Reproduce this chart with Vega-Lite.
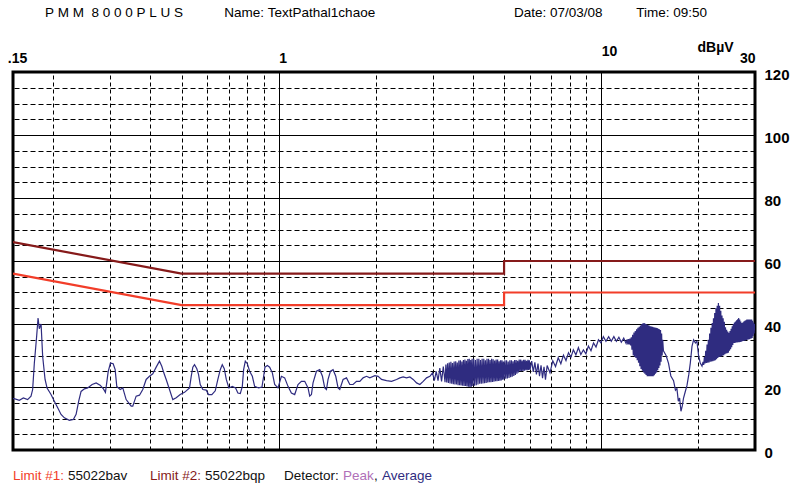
{
  "$schema": "https://vega.github.io/schema/vega-lite/v6.json",
  "width": 742,
  "height": 378,
  "autosize": {"type": "none"},
  "padding": {"left": 13, "top": 72, "right": 41, "bottom": 36},
  "background": "white",
  "title": {
    "text": "P\u00a0M\u00a0M\u00a0\u00a08\u00a00\u00a00\u00a00\u00a0P\u00a0L\u00a0U\u00a0S\u00a0\u00a0\u00a0\u00a0\u00a0\u00a0\u00a0\u00a0\u00a0\u00a0\u00a0Name:\u00a0TextPathal1chaoe\u00a0\u00a0\u00a0\u00a0\u00a0\u00a0\u00a0\u00a0\u00a0\u00a0\u00a0\u00a0\u00a0\u00a0\u00a0\u00a0\u00a0\u00a0\u00a0\u00a0\u00a0\u00a0\u00a0\u00a0\u00a0\u00a0\u00a0\u00a0\u00a0\u00a0\u00a0\u00a0\u00a0\u00a0\u00a0\u00a0\u00a0Date:\u00a007/03/08\u00a0\u00a0\u00a0\u00a0\u00a0\u00a0\u00a0\u00a0\u00a0Time:\u00a009:50",
    "anchor": "start",
    "frame": "group",
    "dx": 32,
    "offset": 21,
    "font": "Liberation Sans",
    "fontSize": 13.5,
    "fontWeight": "normal",
    "color": "black"
  },
  "datasets": {
    "limits": [
      {"lim": "Limit #1:", "i": 1, "f": 0.15, "db": 56},
      {"lim": "Limit #1:", "i": 2, "f": 0.5, "db": 46},
      {"lim": "Limit #1:", "i": 3, "f": 5, "db": 46},
      {"lim": "Limit #1:", "i": 4, "f": 5, "db": 50},
      {"lim": "Limit #1:", "i": 5, "f": 30, "db": 50},
      {"lim": "Limit #2:", "i": 1, "f": 0.15, "db": 66},
      {"lim": "Limit #2:", "i": 2, "f": 0.5, "db": 56},
      {"lim": "Limit #2:", "i": 3, "f": 5, "db": 56},
      {"lim": "Limit #2:", "i": 4, "f": 5, "db": 60},
      {"lim": "Limit #2:", "i": 5, "f": 30, "db": 60}
    ],
    "trace": [
      {"f": 0.15, "db": 16.3}, {"f": 0.1514, "db": 16.3}, {"f": 0.1569, "db": 15.8}, {"f": 0.1615, "db": 16.5},
      {"f": 0.1665, "db": 16.0}, {"f": 0.1706, "db": 17.1}, {"f": 0.1726, "db": 19.2}, {"f": 0.1747, "db": 27.6},
      {"f": 0.1776, "db": 36.1}, {"f": 0.1794, "db": 41.9}, {"f": 0.181, "db": 38.5}, {"f": 0.1833, "db": 40.0},
      {"f": 0.1854, "db": 29.7}, {"f": 0.1886, "db": 22.4}, {"f": 0.1913, "db": 19.7}, {"f": 0.1968, "db": 17.6},
      {"f": 0.2015, "db": 15.5}, {"f": 0.2064, "db": 13.4}, {"f": 0.2114, "db": 11.3}, {"f": 0.2165, "db": 10.2},
      {"f": 0.2243, "db": 9.4}, {"f": 0.2308, "db": 9.7}, {"f": 0.2354, "db": 11.3}, {"f": 0.2398, "db": 15.5},
      {"f": 0.2439, "db": 18.6}, {"f": 0.2498, "db": 19.4}, {"f": 0.2557, "db": 19.7}, {"f": 0.2639, "db": 20.8},
      {"f": 0.2716, "db": 21.3}, {"f": 0.2794, "db": 20.6}, {"f": 0.2861, "db": 19.4}, {"f": 0.2902, "db": 18.3},
      {"f": 0.2929, "db": 21.3}, {"f": 0.2959, "db": 24.8}, {"f": 0.3008, "db": 27.6}, {"f": 0.3067, "db": 27.4},
      {"f": 0.3111, "db": 25.5}, {"f": 0.3147, "db": 20.2}, {"f": 0.3224, "db": 19.2}, {"f": 0.3285, "db": 19.7},
      {"f": 0.3365, "db": 16.0}, {"f": 0.3488, "db": 13.9}, {"f": 0.3528, "db": 13.9}, {"f": 0.3614, "db": 17.1},
      {"f": 0.3701, "db": 17.4}, {"f": 0.3789, "db": 19.2}, {"f": 0.3882, "db": 22.4}, {"f": 0.3975, "db": 23.4},
      {"f": 0.407, "db": 24.2}, {"f": 0.417, "db": 26.3}, {"f": 0.4269, "db": 28.2}, {"f": 0.434, "db": 26.6},
      {"f": 0.4403, "db": 24.5}, {"f": 0.4479, "db": 22.4}, {"f": 0.4586, "db": 19.2}, {"f": 0.4695, "db": 16.0},
      {"f": 0.4811, "db": 16.6}, {"f": 0.495, "db": 17.6}, {"f": 0.5105, "db": 18.3}, {"f": 0.5291, "db": 19.7},
      {"f": 0.5355, "db": 23.4}, {"f": 0.5417, "db": 26.3}, {"f": 0.5483, "db": 27.1}, {"f": 0.5574, "db": 25.8},
      {"f": 0.5642, "db": 24.0}, {"f": 0.5711, "db": 20.8}, {"f": 0.5819, "db": 19.2}, {"f": 0.5962, "db": 19.0},
      {"f": 0.6061, "db": 17.6}, {"f": 0.6205, "db": 17.6}, {"f": 0.6358, "db": 18.8}, {"f": 0.6477, "db": 22.4},
      {"f": 0.6589, "db": 25.5}, {"f": 0.6684, "db": 27.1}, {"f": 0.6781, "db": 25.8}, {"f": 0.6879, "db": 22.4},
      {"f": 0.7008, "db": 19.7}, {"f": 0.718, "db": 20.2}, {"f": 0.7351, "db": 19.7}, {"f": 0.7473, "db": 18.1},
      {"f": 0.7603, "db": 17.9}, {"f": 0.7713, "db": 20.2}, {"f": 0.7785, "db": 25.5}, {"f": 0.788, "db": 28.2},
      {"f": 0.7994, "db": 27.4}, {"f": 0.8126, "db": 25.0}, {"f": 0.8285, "db": 23.4}, {"f": 0.8422, "db": 20.2},
      {"f": 0.8667, "db": 19.7}, {"f": 0.8874, "db": 20.0}, {"f": 0.8982, "db": 23.4}, {"f": 0.9066, "db": 26.3},
      {"f": 0.9223, "db": 26.8}, {"f": 0.9376, "db": 26.3}, {"f": 0.9559, "db": 24.5}, {"f": 0.9718, "db": 20.8},
      {"f": 0.995, "db": 19.7}, {"f": 1.0195, "db": 23.4}, {"f": 1.0438, "db": 22.9}, {"f": 1.0688, "db": 20.2},
      {"f": 1.095, "db": 18.1}, {"f": 1.1212, "db": 17.6}, {"f": 1.148, "db": 20.8}, {"f": 1.1763, "db": 21.8},
      {"f": 1.2043, "db": 21.8}, {"f": 1.2331, "db": 19.7}, {"f": 1.2482, "db": 17.1}, {"f": 1.2635, "db": 17.6},
      {"f": 1.278, "db": 21.3}, {"f": 1.3095, "db": 25.0}, {"f": 1.3407, "db": 25.5}, {"f": 1.3668, "db": 23.4},
      {"f": 1.3895, "db": 19.7}, {"f": 1.4065, "db": 19.2}, {"f": 1.4227, "db": 22.4}, {"f": 1.4473, "db": 25.0},
      {"f": 1.4745, "db": 25.5}, {"f": 1.5032, "db": 23.4}, {"f": 1.5282, "db": 19.7}, {"f": 1.5469, "db": 19.2},
      {"f": 1.5838, "db": 22.4}, {"f": 1.6228, "db": 22.9}, {"f": 1.6615, "db": 20.8}, {"f": 1.7012, "db": 20.8},
      {"f": 1.743, "db": 21.8}, {"f": 1.7846, "db": 21.8}, {"f": 1.8272, "db": 22.9}, {"f": 1.8722, "db": 23.4},
      {"f": 1.9171, "db": 22.9}, {"f": 1.9868, "db": 23.6}, {"f": 2.0342, "db": 23.4}, {"f": 2.0842, "db": 22.4},
      {"f": 2.16, "db": 22.0}, {"f": 2.2387, "db": 21.8}, {"f": 2.3202, "db": 22.4}, {"f": 2.3756, "db": 22.9},
      {"f": 2.4322, "db": 23.2}, {"f": 2.4921, "db": 22.9}, {"f": 2.5516, "db": 23.2}, {"f": 2.6125, "db": 22.4},
      {"f": 2.6767, "db": 21.3}, {"f": 2.7406, "db": 20.8}, {"f": 2.8061, "db": 21.8}, {"f": 2.875, "db": 22.9},
      {"f": 2.9436, "db": 23.4},
      {"f": 3.00, "db": 24.5}, {"f": 3.04, "db": 22}, {"f": 3.08, "db": 25}, {"f": 3.12, "db": 22},
      {"f": 3.16, "db": 26}, {"f": 3.20, "db": 21.8}, {"f": 3.24, "db": 26.5}, {"f": 3.28, "db": 21.5},
      {"f": 3.30, "db": 27.1}, {"f": 3.32, "db": 21.4}, {"f": 3.34, "db": 27.5}, {"f": 3.36, "db": 21.3},
      {"f": 3.38, "db": 27.8}, {"f": 3.40, "db": 21.1}, {"f": 3.42, "db": 28}, {"f": 3.44, "db": 21},
      {"f": 3.46, "db": 27.6}, {"f": 3.48, "db": 20.9}, {"f": 3.50, "db": 28.1}, {"f": 3.52, "db": 20.8},
      {"f": 3.54, "db": 28.2}, {"f": 3.56, "db": 20.8}, {"f": 3.58, "db": 27.8}, {"f": 3.60, "db": 20.6},
      {"f": 3.62, "db": 28.4}, {"f": 3.64, "db": 20.6}, {"f": 3.66, "db": 28.5}, {"f": 3.68, "db": 20.5},
      {"f": 3.70, "db": 28.1}, {"f": 3.72, "db": 20.4}, {"f": 3.74, "db": 28.6}, {"f": 3.76, "db": 20.3},
      {"f": 3.78, "db": 28.7}, {"f": 3.80, "db": 20.3}, {"f": 3.82, "db": 28.3}, {"f": 3.84, "db": 20.2},
      {"f": 3.86, "db": 28.9}, {"f": 3.88, "db": 20.1}, {"f": 3.90, "db": 29}, {"f": 3.92, "db": 20},
      {"f": 3.94, "db": 28.6}, {"f": 3.96, "db": 20.1}, {"f": 3.98, "db": 29}, {"f": 4.00, "db": 20.3},
      {"f": 4.025, "db": 29}, {"f": 4.05, "db": 20.4}, {"f": 4.075, "db": 28.6}, {"f": 4.10, "db": 20.6},
      {"f": 4.125, "db": 29}, {"f": 4.15, "db": 20.8}, {"f": 4.175, "db": 29}, {"f": 4.20, "db": 21},
      {"f": 4.225, "db": 28.6}, {"f": 4.25, "db": 21}, {"f": 4.275, "db": 29}, {"f": 4.30, "db": 21.1},
      {"f": 4.325, "db": 29}, {"f": 4.35, "db": 21.2}, {"f": 4.375, "db": 28.5}, {"f": 4.40, "db": 21.3},
      {"f": 4.425, "db": 29}, {"f": 4.45, "db": 21.4}, {"f": 4.475, "db": 29}, {"f": 4.50, "db": 21.5},
      {"f": 4.525, "db": 28.6}, {"f": 4.55, "db": 21.5}, {"f": 4.575, "db": 29}, {"f": 4.60, "db": 21.6},
      {"f": 4.625, "db": 28.8}, {"f": 4.65, "db": 21.7}, {"f": 4.675, "db": 28.4}, {"f": 4.70, "db": 21.8},
      {"f": 4.725, "db": 28.7}, {"f": 4.75, "db": 21.8}, {"f": 4.775, "db": 28.7}, {"f": 4.80, "db": 21.9},
      {"f": 4.825, "db": 28.2}, {"f": 4.85, "db": 22}, {"f": 4.875, "db": 28.5}, {"f": 4.90, "db": 22.1},
      {"f": 4.925, "db": 28.5}, {"f": 4.95, "db": 22.3}, {"f": 4.975, "db": 28.1}, {"f": 5.00, "db": 22.4},
      {"f": 5.03, "db": 28.5}, {"f": 5.06, "db": 22.6}, {"f": 5.09, "db": 28.5}, {"f": 5.12, "db": 22.7},
      {"f": 5.15, "db": 28.1}, {"f": 5.18, "db": 22.9}, {"f": 5.21, "db": 28.5}, {"f": 5.24, "db": 23.1},
      {"f": 5.27, "db": 28.5}, {"f": 5.30, "db": 23.3}, {"f": 5.33, "db": 28.2}, {"f": 5.36, "db": 23.5},
      {"f": 5.39, "db": 28.6}, {"f": 5.42, "db": 23.8}, {"f": 5.45, "db": 28.6}, {"f": 5.48, "db": 24.2},
      {"f": 5.51, "db": 28.3}, {"f": 5.54, "db": 24.6}, {"f": 5.57, "db": 28.7}, {"f": 5.60, "db": 25},
      {"f": 5.63, "db": 28.7}, {"f": 5.66, "db": 25}, {"f": 5.69, "db": 28.4}, {"f": 5.72, "db": 25.1},
      {"f": 5.75, "db": 28.6}, {"f": 5.78, "db": 25.2}, {"f": 5.81, "db": 28.6}, {"f": 5.84, "db": 25.3},
      {"f": 5.87, "db": 28.3}, {"f": 5.90, "db": 25.3}, {"f": 5.93, "db": 28.6}, {"f": 5.96, "db": 25.4},
      {"f": 5.99, "db": 28.5}, {"f": 6.02, "db": 25.5}, {"f": 6.09, "db": 28.2}, {"f": 6.16, "db": 24.8},
      {"f": 6.23, "db": 27.8}, {"f": 6.30, "db": 24}, {"f": 6.37, "db": 27.4}, {"f": 6.44, "db": 23.4},
      {"f": 6.51, "db": 26.9}, {"f": 6.58, "db": 22.8}, {"f": 6.65, "db": 26.4}, {"f": 6.72, "db": 22.3},
      {"f": 6.80, "db": 26.8}, {"f": 6.94, "db": 24.5}, {"f": 7.08, "db": 28.3}, {"f": 7.22, "db": 26.5},
      {"f": 7.36, "db": 29.3}, {"f": 7.50, "db": 27.4}, {"f": 7.64, "db": 30.1}, {"f": 7.78, "db": 28.4},
      {"f": 7.92, "db": 30.9}, {"f": 8.06, "db": 29.5}, {"f": 8.20, "db": 31.8}, {"f": 8.35, "db": 30.2},
      {"f": 8.50, "db": 32.5}, {"f": 8.65, "db": 30.3}, {"f": 8.81, "db": 31.8}, {"f": 8.97, "db": 30.5},
      {"f": 9.13, "db": 33}, {"f": 9.30, "db": 31.5}, {"f": 9.47, "db": 34}, {"f": 9.64, "db": 32.7},
      {"f": 9.81, "db": 35}, {"f": 9.98, "db": 34}, {"f": 10.16, "db": 36}, {"f": 10.35, "db": 34.5},
      {"f": 10.55, "db": 36}, {"f": 10.75, "db": 34.5}, {"f": 10.95, "db": 36}, {"f": 11.15, "db": 34.5},
      {"f": 11.35, "db": 35.8}, {"f": 11.55, "db": 34.2}, {"f": 11.75, "db": 35.5}, {"f": 11.95, "db": 33.8},
      {"f": 12.04, "db": 35.1}, {"f": 12.10, "db": 33.5}, {"f": 12.16, "db": 35.2}, {"f": 12.22, "db": 33.5},
      {"f": 12.28, "db": 35.4}, {"f": 12.34, "db": 33.2}, {"f": 12.40, "db": 35.8}, {"f": 12.46, "db": 31.8},
      {"f": 12.52, "db": 36.6}, {"f": 12.58, "db": 30}, {"f": 12.64, "db": 37.3}, {"f": 12.70, "db": 29.6},
      {"f": 12.76, "db": 37.8}, {"f": 12.82, "db": 29.2}, {"f": 12.88, "db": 38.3}, {"f": 12.94, "db": 28.5},
      {"f": 13.00, "db": 38.8}, {"f": 13.06, "db": 27.7}, {"f": 13.12, "db": 39.1}, {"f": 13.18, "db": 26.6},
      {"f": 13.24, "db": 39.5}, {"f": 13.30, "db": 25.7}, {"f": 13.36, "db": 39.9}, {"f": 13.42, "db": 25.2},
      {"f": 13.48, "db": 40.2}, {"f": 13.54, "db": 24.6}, {"f": 13.60, "db": 40.3}, {"f": 13.66, "db": 24.2},
      {"f": 13.72, "db": 40.1}, {"f": 13.78, "db": 23.8}, {"f": 13.84, "db": 39.9}, {"f": 13.90, "db": 23.4},
      {"f": 13.96, "db": 39.7}, {"f": 14.02, "db": 23.4}, {"f": 14.08, "db": 39.5}, {"f": 14.14, "db": 23.4},
      {"f": 14.20, "db": 39.3}, {"f": 14.26, "db": 23.4}, {"f": 14.32, "db": 39.2}, {"f": 14.38, "db": 23.4},
      {"f": 14.44, "db": 39.1}, {"f": 14.50, "db": 23.4}, {"f": 14.56, "db": 39}, {"f": 14.62, "db": 23.7},
      {"f": 14.68, "db": 38.9}, {"f": 14.74, "db": 24.2}, {"f": 14.80, "db": 38.8}, {"f": 14.86, "db": 24.6},
      {"f": 14.92, "db": 38.7}, {"f": 14.98, "db": 25.3}, {"f": 15.04, "db": 38.5}, {"f": 15.10, "db": 26},
      {"f": 15.16, "db": 38.3}, {"f": 15.22, "db": 26.8}, {"f": 15.28, "db": 38.1}, {"f": 15.34, "db": 28},
      {"f": 15.40, "db": 37}, {"f": 15.46, "db": 30}, {"f": 15.52, "db": 35}, {"f": 15.60, "db": 31.5},
      {"f": 15.9, "db": 30}, {"f": 16.18, "db": 27.5}, {"f": 16.45, "db": 23.5}, {"f": 16.77, "db": 22},
      {"f": 17.0, "db": 19}, {"f": 17.18, "db": 19.5}, {"f": 17.35, "db": 15.5}, {"f": 17.51, "db": 16.5},
      {"f": 17.68, "db": 12.3}, {"f": 17.85, "db": 14}, {"f": 18.01, "db": 16.5}, {"f": 18.23, "db": 18.5},
      {"f": 18.46, "db": 20.5}, {"f": 18.70, "db": 24}, {"f": 18.90, "db": 27.6}, {"f": 19.13, "db": 32.9},
      {"f": 19.35, "db": 35}, {"f": 19.6, "db": 34}, {"f": 19.82, "db": 34.5}, {"f": 20.05, "db": 30},
      {"f": 20.29, "db": 27.6}, {"f": 20.55, "db": 26.6},
      {"f": 20.7, "db": 28}, {"f": 20.8, "db": 27}, {"f": 20.9, "db": 29.5}, {"f": 21.0, "db": 27.5},
      {"f": 21.1, "db": 31.5}, {"f": 21.2, "db": 27.6}, {"f": 21.3, "db": 33.5}, {"f": 21.4, "db": 27.7},
      {"f": 21.5, "db": 35}, {"f": 21.6, "db": 27.8}, {"f": 21.7, "db": 37}, {"f": 21.8, "db": 28},
      {"f": 21.9, "db": 38.8}, {"f": 22.0, "db": 28.1}, {"f": 22.1, "db": 40.3}, {"f": 22.2, "db": 28.2},
      {"f": 22.3, "db": 41.8}, {"f": 22.4, "db": 28.3}, {"f": 22.5, "db": 43.5}, {"f": 22.6, "db": 28.5},
      {"f": 22.7, "db": 45}, {"f": 22.8, "db": 28.8}, {"f": 22.9, "db": 45.8}, {"f": 23.0, "db": 29.2},
      {"f": 23.1, "db": 46.7}, {"f": 23.2, "db": 29.5}, {"f": 23.3, "db": 45.8}, {"f": 23.4, "db": 29.6},
      {"f": 23.5, "db": 44.2}, {"f": 23.6, "db": 29.7}, {"f": 23.7, "db": 42.7}, {"f": 23.8, "db": 29.9},
      {"f": 23.9, "db": 41.8}, {"f": 24.0, "db": 30.1}, {"f": 24.1, "db": 40.7}, {"f": 24.2, "db": 30.4},
      {"f": 24.3, "db": 39}, {"f": 24.4, "db": 30.6}, {"f": 24.5, "db": 38.2}, {"f": 24.6, "db": 30.7},
      {"f": 24.7, "db": 37.6}, {"f": 24.8, "db": 30.9}, {"f": 24.9, "db": 37.2}, {"f": 25.0, "db": 31.5},
      {"f": 25.1, "db": 37.8}, {"f": 25.2, "db": 32}, {"f": 25.3, "db": 38.5}, {"f": 25.4, "db": 32.6},
      {"f": 25.5, "db": 39.3}, {"f": 25.6, "db": 33.3}, {"f": 25.7, "db": 40}, {"f": 25.8, "db": 34},
      {"f": 25.9, "db": 40.5}, {"f": 26.0, "db": 34}, {"f": 26.1, "db": 40.8}, {"f": 26.2, "db": 34.1},
      {"f": 26.3, "db": 41.2}, {"f": 26.4, "db": 34.1}, {"f": 26.5, "db": 41.5}, {"f": 26.6, "db": 34.2},
      {"f": 26.7, "db": 41.9}, {"f": 26.8, "db": 34.2}, {"f": 26.9, "db": 41.4}, {"f": 27.0, "db": 34.3},
      {"f": 27.1, "db": 40.8}, {"f": 27.2, "db": 34.4}, {"f": 27.3, "db": 40.3}, {"f": 27.4, "db": 34.5},
      {"f": 27.5, "db": 40.5}, {"f": 27.6, "db": 34.6}, {"f": 27.7, "db": 40.8}, {"f": 27.8, "db": 34.7},
      {"f": 27.9, "db": 41}, {"f": 28.0, "db": 34.8}, {"f": 28.1, "db": 41.2}, {"f": 28.2, "db": 34.9},
      {"f": 28.3, "db": 41.4}, {"f": 28.4, "db": 35}, {"f": 28.5, "db": 41.4}, {"f": 28.6, "db": 35.1},
      {"f": 28.7, "db": 41.4}, {"f": 28.8, "db": 35.2}, {"f": 28.9, "db": 41.4}, {"f": 29.0, "db": 35.3},
      {"f": 29.1, "db": 41.4}, {"f": 29.2, "db": 35.4}, {"f": 29.3, "db": 41.4}, {"f": 29.4, "db": 35.6},
      {"f": 29.5, "db": 41}, {"f": 29.6, "db": 36.2}, {"f": 29.7, "db": 40.5}, {"f": 29.8, "db": 37},
      {"f": 29.9, "db": 40}, {"f": 30.0, "db": 38}
    ]
  },
  "encoding": {
    "x": {
      "field": "f",
      "type": "quantitative",
      "scale": {"type": "log", "domain": [0.15, 30], "nice": false},
      "axis": {
        "orient": "top",
        "title": null,
        "values": [0.15, 0.2, 0.3, 0.4, 0.5, 0.6, 0.7, 0.8, 0.9, 1, 2, 3, 4, 5, 6, 7, 8, 9, 10, 20, 30],
        "labelExpr": "datum.value == 0.15 ? '.15' : datum.value == 1 ? '1' : datum.value == 10 ? '10' : datum.value == 30 ? '30' : ''",
        "labelOverlap": false,
        "labelFlush": false,
        "ticks": false,
        "domain": false,
        "grid": true,
        "gridColor": "black",
        "gridWidth": 1,
        "gridOpacity": 1,
        "gridDash": {"condition": {"test": "datum.value == 1 || datum.value == 10", "value": []}, "value": [4, 3]},
        "labelFont": "Liberation Sans",
        "labelFontWeight": "bold",
        "labelFontSize": 14,
        "labelColor": "black",
        "labelPadding": 14,
        "labelOffset": {"condition": {"test": "datum.value == 0.15", "value": 4}, "value": 0},
        "labelAlign": {"condition": [{"test": "datum.value == 30", "value": "right"}, {"test": "datum.value == 0.15", "value": "center"}], "value": "left"},
        "labelBaseline": {"condition": {"test": "datum.value == 10", "value": "bottom"}, "value": "middle"}
      }
    },
    "y": {
      "field": "db",
      "type": "quantitative",
      "scale": {"domain": [0, 120], "nice": false, "zero": false},
      "axis": {
        "orient": "right",
        "values": [0, 5, 10, 15, 20, 25, 30, 35, 40, 45, 50, 55, 60, 65, 70, 75, 80, 85, 90, 95, 100, 105, 110, 115, 120],
        "labelExpr": "datum.value % 20 == 0 ? datum.label : ''",
        "labelOverlap": false,
        "ticks": false,
        "domain": false,
        "grid": true,
        "gridColor": "black",
        "gridWidth": 1,
        "gridOpacity": 1,
        "gridDash": {"condition": {"test": "datum.value % 20 == 0", "value": []}, "value": [5, 3]},
        "labelFont": "Liberation Sans",
        "labelFontWeight": "bold",
        "labelFontSize": 15,
        "labelColor": "black",
        "labelPadding": 9,
        "labelOffset": 2,
        "title": "dB\u00b5V",
        "titleAngle": 0,
        "titleX": -58,
        "titleY": -18,
        "titleAlign": "left",
        "titleBaseline": "bottom",
        "titleFont": "Liberation Sans",
        "titleFontWeight": "bold",
        "titleFontSize": 14,
        "titleColor": "black"
      }
    }
  },
  "layer": [
    {
      "data": {"name": "limits"},
      "mark": {"type": "line", "strokeWidth": 2.2, "clip": true},
      "encoding": {
        "order": {"field": "i", "type": "quantitative"},
        "color": {
          "field": "lim",
          "type": "nominal",
          "scale": {
            "domain": ["Limit #1:", "55022bav", "Limit #2:", "55022bqp", "Detector:", "Peak", ",", "Average"],
            "range": ["#f23d29", "#111111", "#861a1a", "#111111", "#111111", "#b070b8", "#111111", "#2f2c80"]
          },
          "legend": {
            "orient": "bottom",
            "direction": "horizontal",
            "title": null,
            "offset": 19,
            "padding": 0,
            "symbolType": "circle",
            "symbolSize": 1,
            "symbolOpacity": 0,
            "symbolStrokeWidth": 0,
            "labelOffset": 0,
            "columnPadding": 0,
            "labelFont": "Liberation Sans",
            "labelFontSize": 13.5,
            "labelLimit": 300,
            "encode": {
              "labels": {
                "update": {
                  "fill": {"scale": "color", "field": "value"},
                  "dx": {"value": -13.5},
                  "text": {"signal": "(datum.value == '55022bav') ? datum.value + '\u00a0\u00a0\u00a0\u00a0\u00a0\u00a0\u200b' : (datum.value == '55022bqp') ? datum.value + '\u00a0\u00a0\u00a0\u00a0\u00a0\u200b' : (datum.value == 'Limit #1:' || datum.value == 'Limit #2:' || datum.value == 'Detector:' || datum.value == ',') ? datum.value + '\u00a0\u200b' : datum.value"}
                }
              }
            }
          }
        }
      }
    },
    {
      "data": {"name": "trace"},
      "mark": {"type": "line", "strokeWidth": 1.2, "clip": true},
      "encoding": {
        "color": {"datum": "Average", "type": "nominal"}
      }
    }
  ],
  "config": {
    "view": {"stroke": "black", "strokeWidth": 3},
    "font": "Liberation Sans"
  }
}
